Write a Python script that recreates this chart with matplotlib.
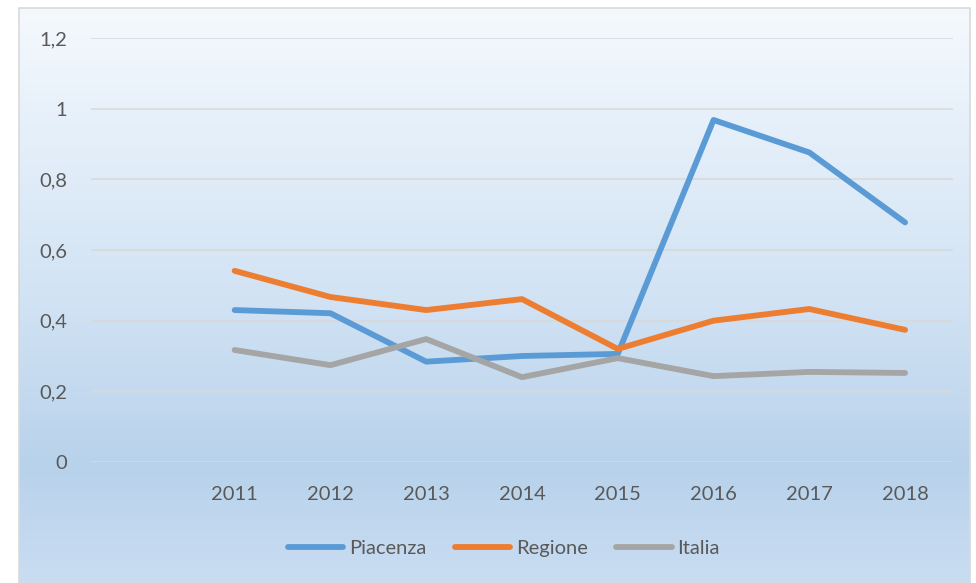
import numpy as np
import matplotlib
matplotlib.use("Agg")
import matplotlib.pyplot as plt
from matplotlib.colors import LinearSegmentedColormap
from matplotlib.patches import Rectangle

categories = ["", "2011", "2012", "2013", "2014", "2015", "2016", "2017", "2018"]
piacenza = [None, 0.430, 0.421, 0.284, 0.300, 0.306, 0.968, 0.876, 0.678]
regione = [None, 0.541, 0.467, 0.430, 0.461, 0.320, 0.400, 0.433, 0.374]
italia = [None, 0.317, 0.274, 0.348, 0.240, 0.294, 0.243, 0.255, 0.252]
series_names = ["Piacenza", "Regione", "Italia"]
colors = ["#5B9BD5", "#ED7D31", "#A5A5A5"]
yticks = [0, 0.2, 0.4, 0.6, 0.8, 1.0, 1.2]
ytick_labels = ["0", "0,2", "0,4", "0,6", "0,8", "1", "1,2"]

FONT = "Lato"
FS = 14.5

W, H = 976, 583
fig = plt.figure(figsize=(W / 100, H / 100), dpi=100)
fig.patch.set_facecolor("white")

# gradient background panel
x0, y0, x1, y1 = 19, 8, 970, 583
bg = fig.add_axes([x0 / W, 1 - y1 / H, (x1 - x0) / W, (y1 - y0) / H])
cmap = LinearSegmentedColormap.from_list(
    "bg", [(0.0, "#f5f9fd"), (0.2, "#e6f0fa"), (0.5, "#d2e3f4"),
           (0.8, "#b8d2eb"), (1.0, "#c9ddf2")])
grad = np.linspace(0, 1, 256).reshape(-1, 1)
bg.imshow(grad, aspect="auto", cmap=cmap, extent=[0, 1, 0, 1], origin="upper")
bg.set_xlim(0, 1)
bg.set_ylim(0, 1)
bg.axis("off")
fig.patches.append(Rectangle((x0 / W, 0), (x1 - x0) / W, 1 - y0 / H,
                             transform=fig.transFigure, fill=False,
                             edgecolor="#d9d9d9", linewidth=1.2, zorder=5))

# plot area
px0, px1 = 91, 953
py_top, py_bot = 38, 462
ax = fig.add_axes([px0 / W, 1 - py_bot / H, (px1 - px0) / W, (py_bot - py_top) / H])
ax.patch.set_alpha(0)
x = np.arange(len(categories))
for vals, name, c in zip([piacenza, regione, italia], series_names, colors):
    y = np.array([np.nan if v is None else v for v in vals], dtype=float)
    ax.plot(x, y, color=c, linewidth=4.2, solid_capstyle="round",
            solid_joinstyle="round", label=name, zorder=3)

ax.set_xlim(-0.5, len(categories) - 0.5)
ax.set_ylim(0, 1.2)
ax.set_yticks(yticks)
ax.set_yticklabels(ytick_labels)
ax.set_xticks(x)
ax.set_xticklabels(categories)
ax.grid(axis="y", color="#d9d9d9", linewidth=1.2)
ax.set_axisbelow(True)
for s in ax.spines.values():
    s.set_visible(False)
ax.tick_params(length=0, labelsize=FS, colors="#595959")
ax.tick_params(axis="x", pad=17)
ax.tick_params(axis="y", pad=17)
for lab in ax.get_xticklabels() + ax.get_yticklabels():
    lab.set_fontfamily(FONT)

leg = ax.legend(loc="upper center", bbox_to_anchor=(0.5 - 0.021, -0.14), ncol=3,
                frameon=False, handlelength=2.75, handletextpad=0.3,
                columnspacing=1.4, prop={"family": FONT, "size": FS})
for t in leg.get_texts():
    t.set_color("#595959")

fig.savefig("out.png", dpi=100)
